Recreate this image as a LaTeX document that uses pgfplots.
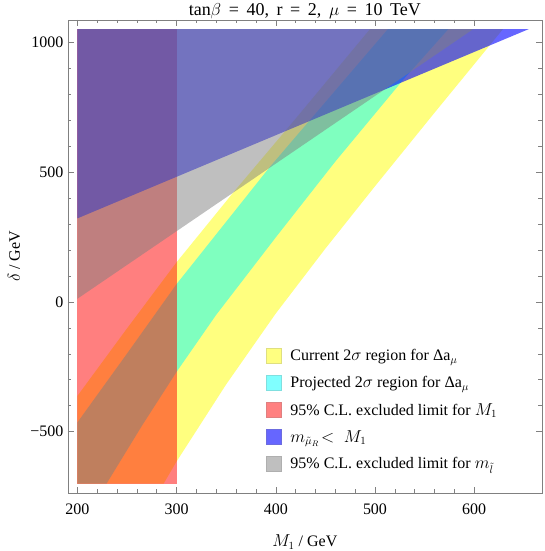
\documentclass[border=0pt]{standalone}
\usepackage{fontspec}
\setmainfont{Liberation Serif}
\usepackage{pgfplots}
\pgfplotsset{compat=1.18}
\definecolor{cYel}{rgb}{1,1,0}
\definecolor{cCya}{rgb}{0,1,1}
\definecolor{cRed}{rgb}{1,0,0}
\definecolor{cBlu}{rgb}{0,0,1}
\definecolor{cGra}{rgb}{0.5,0.5,0.5}
\definecolor{lYel}{rgb}{1,1,0.5}
\definecolor{lCya}{rgb}{0.5,1,1}
\definecolor{lRed}{rgb}{1,0.5,0.5}
\definecolor{lBlu}{rgb}{0.4,0.4,1}
\definecolor{lGra}{rgb}{0.75,0.75,0.75}
\begin{document}
\begin{tikzpicture}
\begin{axis}[
  scale only axis, width=474pt, height=473pt,
  xmin=190.6, xmax=668, ymin=-735, ymax=1085,
  axis line style={draw=black!50},
  xtick={200,300,400,500,600}, xticklabels={200,300,400,500,600},
  ytick={-500,0,500,1000}, yticklabels={−500,0,500,1000},
  minor x tick num=4, minor y tick num=4,
  tick style={black!50, line width=0.5pt},
  major tick length=6pt, minor tick length=3.5pt,
  ticklabel style={font=\fontsize{16}{16}\selectfont},
  xticklabel style={anchor=base, yshift=-22pt},
  yticklabel style={anchor=east, inner sep=0pt, xshift=-4.5pt},
  title={\spaceskip=7.6pt plus 1pt tan$\beta$ = 40, r = 2, $\mu$ = 10 TeV},
  every axis title/.style={at={(rel axis cs:0.5,1.0095)}, anchor=base, inner sep=0pt, font=\fontsize{18}{18}\selectfont},
  xlabel={$M_1$ / GeV},
  xlabel style={at={(rel axis cs:0.5,-0.1142)}, anchor=base, font=\fontsize{16}{16}\selectfont},
  ylabel={$\delta$ / GeV},
  ylabel style={at={(rel axis cs:-0.1013,0.5)}, anchor=base, font=\fontsize{16}{16}\selectfont},
  legend style={at={(rel axis cs:0.411,0.311)}, anchor=north west, draw=none, fill=none,
    font=\fontsize{16}{16}\selectfont, row sep=11.5pt, column sep=8pt, cells={anchor=west},
    nodes={inner sep=1pt}},
]
% Current 2 sigma (yellow)
\addplot[fill=cYel, fill opacity=0.5, draw=none,
  legend image code/.code={\path[fill=lYel, fill opacity=1, draw=lYel!75!gray, draw opacity=1, line width=0.6pt] (0pt,-7.5pt) rectangle (15pt,7.5pt);}] coordinates {
 (200,-700) (287,-700) (300,-615) (350,-318) (400,-45) (450,205) (500,445) (560,728) (614,980) (629,1050)
 (495,1050) (420,705) (357,420) (300,152) (250,-103) (200,-363)} -- cycle;
\addlegendentry{Current 2$\sigma$ region for Δa$_\mu$}
% Projected 2 sigma (cyan)
\addplot[fill=cCya, fill opacity=0.5, draw=none,
  legend image code/.code={\path[fill=lCya, fill opacity=1, draw=lCya!75!gray, draw opacity=1, line width=0.6pt] (0pt,-7.5pt) rectangle (15pt,7.5pt);}] coordinates {
 (200,-700) (229.5,-700) (265,-478) (300,-270) (340,-50) (400,248) (460,540) (528,853) (574,1050)
 (513,1050) (450,769) (394,519) (350,308) (300,68) (250,-200) (200,-465)} -- cycle;
\addlegendentry{Projected 2$\sigma$ region for Δa$_\mu$}
% 95% CL limit on M1 (red)
\addplot[fill=cRed, fill opacity=0.5, draw=none,
  legend image code/.code={\path[fill=lRed, fill opacity=1, draw=lRed!75!gray, draw opacity=1, line width=0.6pt] (0pt,-7.5pt) rectangle (15pt,7.5pt);}] coordinates {
 (200,-700) (300,-700) (300,1050) (200,1050)} -- cycle;
\addlegendentry{95\% C.L. excluded limit for $M_1$}
% m_muR < M1 (blue)
\addplot[fill=cBlu, fill opacity=0.6, draw=none,
  legend image code/.code={\path[fill=lBlu, fill opacity=1, draw=lBlu!75!gray, draw opacity=1, line width=0.6pt] (0pt,-7.5pt) rectangle (15pt,7.5pt);}] coordinates {
 (200,321) (655,1050) (200,1050)} -- cycle;
\addlegendentry{$m_{\tilde{\mu}_R}\!<\;M_1$}
% 95% CL limit on slepton (gray)
\addplot[fill=cGra, fill opacity=0.5, draw=none,
  legend image code/.code={\path[fill=lGra, fill opacity=1, draw=lGra!75!gray, draw opacity=1, line width=0.6pt] (0pt,-7.5pt) rectangle (15pt,7.5pt);}] coordinates {
 (200,11.5) (599,1050) (200,1050)} -- cycle;
\addlegendentry{95\% C.L. excluded limit for $m_{\tilde{l}}$}
\end{axis}
\pgfresetboundingbox
\useasboundingbox ([shift={(-68pt,-58.3pt)}]current axis.south west) rectangle ([shift={(3pt,20pt)}]current axis.north east);
\end{tikzpicture}
\end{document}
